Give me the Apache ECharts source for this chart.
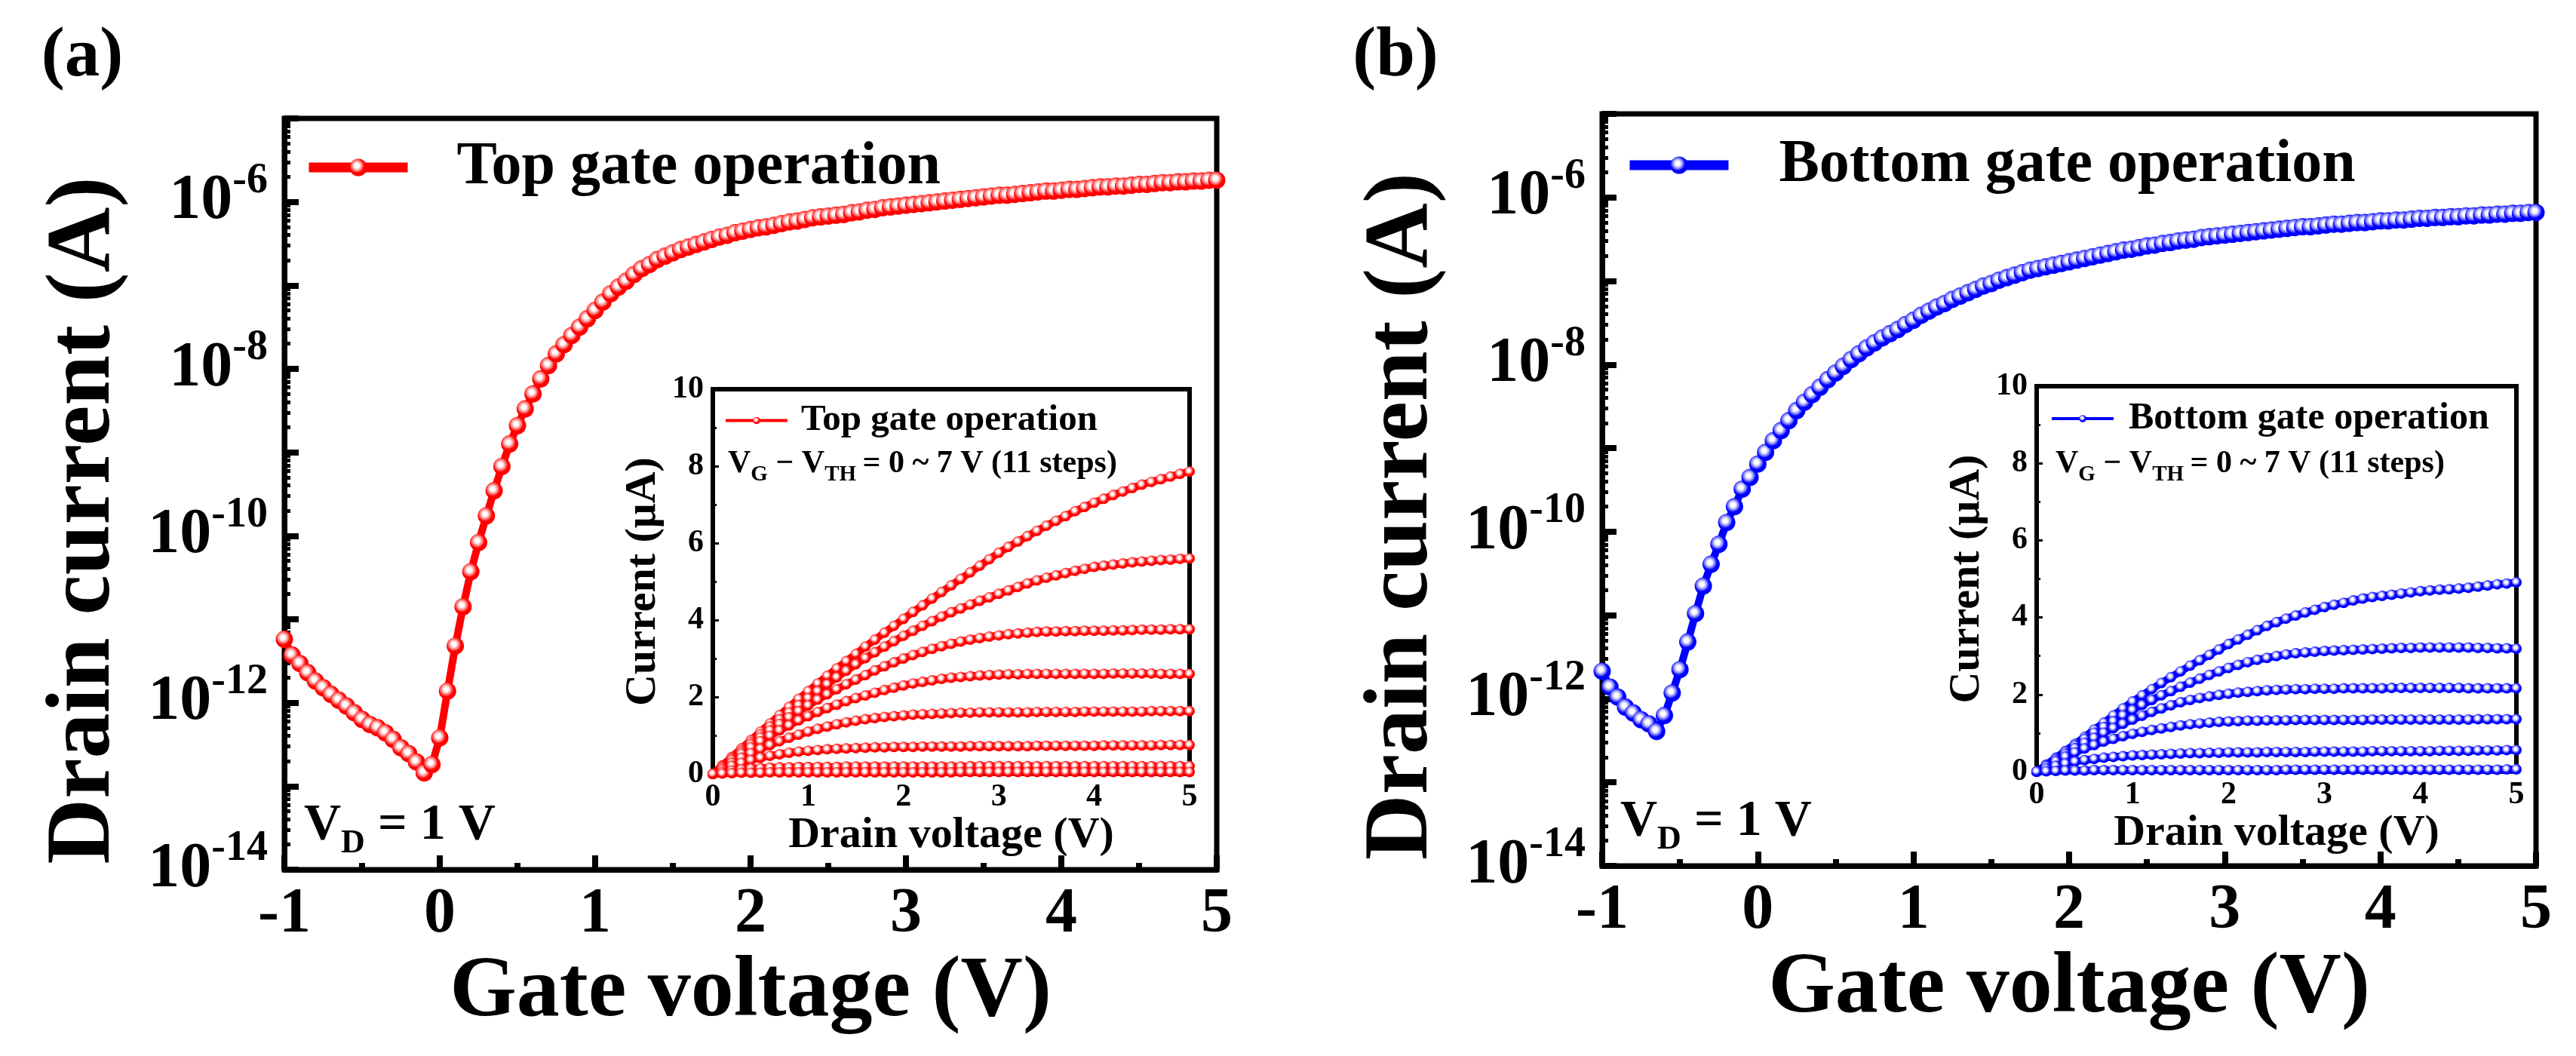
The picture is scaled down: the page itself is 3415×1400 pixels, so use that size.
<!DOCTYPE html>
<html>
<head>
<meta charset="utf-8">
<script src="https://cdn.jsdelivr.net/npm/echarts@6/dist/echarts.min.js"></script>
<style>
html,body{margin:0;padding:0;background:#fff;}
#chart{width:3415px;height:1400px;}
</style>
</head>
<body>
<div id="chart"></div>
<script>
// ---------------- DATA ----------------
// Gate voltage sweep (V)
const gateVoltage = [
 -1,-0.95,-0.9,-0.85,-0.8,-0.75,-0.7,-0.65,-0.6,-0.55,-0.5,-0.45,-0.4,-0.35,-0.3,-0.25,-0.2,-0.15,-0.1,-0.05,
 0,0.05,0.1,0.15,0.2,0.25,0.3,0.35,0.4,0.45,0.5,0.55,0.6,0.65,0.7,0.75,0.8,0.85,0.9,0.95,
 1,1.05,1.1,1.15,1.2,1.25,1.3,1.35,1.4,1.45,1.5,1.55,1.6,1.65,1.7,1.75,1.8,1.85,1.9,1.95,
 2,2.05,2.1,2.15,2.2,2.25,2.3,2.35,2.4,2.45,2.5,2.55,2.6,2.65,2.7,2.75,2.8,2.85,2.9,2.95,
 3,3.05,3.1,3.15,3.2,3.25,3.3,3.35,3.4,3.45,3.5,3.55,3.6,3.65,3.7,3.75,3.8,3.85,3.9,3.95,
 4,4.05,4.1,4.15,4.2,4.25,4.3,4.35,4.4,4.45,4.5,4.55,4.6,4.65,4.7,4.75,4.8,4.85,4.9,4.95,5
];
// Drain current, read as log10(I / A)
const topGateLogCurrent = [
 -11.24,-11.43,-11.53,-11.64,-11.74,-11.82,-11.90,-11.97,-12.04,-12.12,-12.20,-12.26,-12.30,-12.36,-12.44,-12.54,-12.61,-12.71,-12.84,-12.74,
 -12.42,-11.86,-11.32,-10.85,-10.43,-10.08,-9.76,-9.46,-9.17,-8.90,-8.68,-8.48,-8.30,-8.12,-7.96,-7.82,-7.71,-7.60,-7.50,-7.40,
 -7.30,-7.20,-7.10,-7.02,-6.95,-6.87,-6.80,-6.75,-6.69,-6.65,-6.61,-6.57,-6.54,-6.51,-6.48,-6.45,-6.42,-6.40,-6.37,-6.35,
 -6.33,-6.31,-6.30,-6.28,-6.26,-6.24,-6.23,-6.21,-6.19,-6.18,-6.17,-6.16,-6.15,-6.13,-6.12,-6.10,-6.09,-6.07,-6.06,-6.05,
 -6.04,-6.03,-6.02,-6.01,-6.00,-5.99,-5.98,-5.97,-5.96,-5.95,-5.94,-5.93,-5.92,-5.92,-5.91,-5.90,-5.89,-5.88,-5.87,-5.87,
 -5.86,-5.85,-5.85,-5.84,-5.83,-5.82,-5.82,-5.81,-5.81,-5.80,-5.79,-5.79,-5.78,-5.77,-5.77,-5.76,-5.76,-5.75,-5.75,-5.74,-5.74
];
const bottomGateLogCurrent = [
 -11.67,-11.86,-11.98,-12.10,-12.17,-12.25,-12.30,-12.39,-12.20,-11.93,-11.65,-11.32,-10.98,-10.65,-10.39,-10.15,-9.89,-9.70,-9.49,-9.35,
 -9.19,-9.05,-8.91,-8.79,-8.67,-8.55,-8.45,-8.36,-8.27,-8.18,-8.10,-8.02,-7.94,-7.87,-7.80,-7.74,-7.68,-7.63,-7.58,-7.52,
 -7.47,-7.41,-7.36,-7.31,-7.27,-7.22,-7.18,-7.14,-7.10,-7.06,-7.03,-6.99,-6.96,-6.93,-6.90,-6.87,-6.85,-6.83,-6.81,-6.79,
 -6.77,-6.75,-6.73,-6.71,-6.69,-6.67,-6.65,-6.63,-6.62,-6.60,-6.58,-6.57,-6.55,-6.54,-6.52,-6.51,-6.50,-6.48,-6.47,-6.46,
 -6.45,-6.44,-6.43,-6.42,-6.41,-6.40,-6.39,-6.38,-6.37,-6.36,-6.35,-6.35,-6.34,-6.33,-6.32,-6.32,-6.31,-6.30,-6.30,-6.29,
 -6.28,-6.28,-6.27,-6.27,-6.26,-6.25,-6.25,-6.24,-6.24,-6.23,-6.23,-6.22,-6.22,-6.21,-6.21,-6.20,-6.20,-6.19,-6.19,-6.18,-6.18
];
// Drain voltage sweep for the output-characteristic insets (V)
const drainVoltage = [
 0,0.1,0.2,0.3,0.4,0.5,0.6,0.7,0.8,0.9,1,
 1.1,1.2,1.3,1.4,1.5,1.6,1.7,1.8,1.9,2,
 2.1,2.2,2.3,2.4,2.5,2.6,2.7,2.8,2.9,3,
 3.1,3.2,3.3,3.4,3.5,3.6,3.7,3.8,3.9,4,
 4.1,4.2,4.3,4.4,4.5,4.6,4.7,4.8,4.9,5
];
// Top gate output curves (µA)
const topOut1 = [0,0.22,0.44,0.66,0.88,1.1,1.31,1.53,1.74,1.95,2.15, 2.35,2.55,2.74,2.93,3.12,3.31,3.49,3.67,3.85,4.03, 4.21,4.38,4.56,4.73,4.9,5.07,5.24,5.41,5.58,5.75, 5.9,6.04,6.18,6.32,6.45,6.58,6.7,6.83,6.94,7.05, 7.15,7.25,7.34,7.43,7.52,7.59,7.66,7.73,7.8,7.86];
const topOut2 = [0,0.21,0.42,0.62,0.83,1.03,1.23,1.42,1.6,1.79,1.97, 2.15,2.33,2.51,2.68,2.85,3.01,3.16,3.31,3.45,3.59, 3.72,3.85,3.97,4.09,4.2,4.3,4.4,4.5,4.59,4.68, 4.77,4.86,4.95,5.03,5.1,5.16,5.22,5.28,5.33,5.38, 5.41,5.44,5.47,5.5,5.52,5.54,5.56,5.57,5.59,5.6];
const topOut3 = [0,0.2,0.39,0.58,0.77,0.95,1.13,1.3,1.47,1.63,1.78, 1.93,2.07,2.2,2.33,2.45,2.57,2.69,2.8,2.9,3.0, 3.09,3.17,3.25,3.32,3.38,3.44,3.49,3.53,3.57,3.6, 3.63,3.65,3.67,3.69,3.7,3.7,3.71,3.71,3.72,3.72, 3.72,3.73,3.73,3.74,3.75,3.75,3.75,3.76,3.76,3.76];
const topOut4 = [0,0.18,0.36,0.53,0.69,0.85,0.99,1.13,1.26,1.39,1.5, 1.61,1.71,1.8,1.89,1.97,2.04,2.11,2.18,2.24,2.3, 2.35,2.39,2.43,2.47,2.5,2.52,2.54,2.56,2.57,2.58, 2.59,2.59,2.6,2.6,2.6,2.6,2.6,2.6,2.6,2.6, 2.6,2.61,2.61,2.61,2.61,2.61,2.6,2.6,2.6,2.6];
const topOut5 = [0,0.15,0.29,0.42,0.54,0.65,0.75,0.85,0.94,1.02,1.1, 1.17,1.23,1.29,1.34,1.38,1.42,1.45,1.48,1.5,1.52, 1.54,1.55,1.56,1.57,1.58,1.59,1.59,1.6,1.6,1.6, 1.6,1.6,1.6,1.61,1.61,1.61,1.61,1.61,1.62,1.62, 1.62,1.62,1.62,1.62,1.62,1.63,1.63,1.63,1.63,1.63];
const topOut6 = [0,0.11,0.21,0.29,0.36,0.42,0.47,0.51,0.55,0.58,0.6, 0.62,0.64,0.65,0.66,0.67,0.68,0.69,0.69,0.7,0.7, 0.7,0.71,0.71,0.71,0.71,0.71,0.72,0.72,0.72,0.72, 0.72,0.72,0.72,0.73,0.73,0.73,0.73,0.73,0.73,0.73, 0.74,0.74,0.74,0.74,0.74,0.74,0.75,0.75,0.75,0.75];
const topOut7 = [0,0.05,0.09,0.12,0.14,0.15,0.16,0.17,0.17,0.18,0.18, 0.18,0.18,0.18,0.19,0.19,0.19,0.19,0.19,0.19,0.19, 0.19,0.19,0.19,0.19,0.19,0.19,0.2,0.2,0.2,0.2, 0.2,0.2,0.2,0.2,0.2,0.2,0.2,0.2,0.2,0.2, 0.2,0.2,0.2,0.2,0.2,0.2,0.2,0.2,0.2,0.2];
const topOut8 = [0,0.01,0.02,0.03,0.03,0.03,0.04,0.04,0.04,0.04,0.04, 0.04,0.04,0.04,0.04,0.04,0.04,0.04,0.04,0.04,0.04, 0.04,0.04,0.04,0.04,0.04,0.05,0.05,0.05,0.05,0.05, 0.05,0.05,0.05,0.05,0.05,0.05,0.05,0.05,0.05,0.05, 0.05,0.05,0.05,0.05,0.05,0.05,0.05,0.05,0.05,0.05];
// Bottom gate output curves (µA)
const botOut1 = [0,0.18,0.36,0.54,0.72,0.9,1.09,1.27,1.46,1.64,1.82, 1.98,2.14,2.3,2.45,2.6,2.75,2.89,3.03,3.17,3.31, 3.43,3.55,3.67,3.78,3.88,3.97,4.05,4.13,4.2,4.27, 4.33,4.38,4.44,4.49,4.53,4.56,4.59,4.62,4.65,4.68, 4.7,4.72,4.73,4.75,4.77,4.8,4.83,4.86,4.88,4.91];
const botOut2 = [0,0.17,0.34,0.51,0.68,0.85,1.01,1.16,1.31,1.46,1.6, 1.73,1.86,1.98,2.09,2.2,2.31,2.41,2.51,2.6,2.69, 2.77,2.84,2.9,2.95,3.0,3.04,3.07,3.09,3.11,3.13, 3.14,3.15,3.16,3.17,3.18,3.19,3.2,3.21,3.21,3.22, 3.22,3.22,3.22,3.22,3.22,3.21,3.21,3.2,3.2,3.19];
const botOut3 = [0,0.16,0.31,0.46,0.61,0.75,0.88,1.01,1.13,1.24,1.35, 1.45,1.55,1.64,1.72,1.8,1.86,1.91,1.95,1.99,2.02, 2.05,2.07,2.09,2.11,2.12,2.13,2.14,2.14,2.15,2.15, 2.15,2.16,2.16,2.16,2.16,2.16,2.17,2.17,2.17,2.17, 2.17,2.17,2.17,2.17,2.16,2.16,2.16,2.16,2.16,2.16];
const botOut4 = [0,0.14,0.27,0.39,0.5,0.6,0.69,0.78,0.85,0.92,0.98, 1.03,1.08,1.12,1.16,1.2,1.23,1.25,1.27,1.29,1.3, 1.31,1.32,1.32,1.33,1.33,1.33,1.34,1.34,1.34,1.34, 1.34,1.34,1.34,1.34,1.35,1.35,1.35,1.35,1.35,1.35, 1.35,1.35,1.35,1.35,1.35,1.36,1.36,1.36,1.36,1.36];
const botOut5 = [0,0.08,0.15,0.21,0.26,0.3,0.33,0.36,0.38,0.4,0.42, 0.43,0.44,0.45,0.46,0.47,0.48,0.48,0.49,0.49,0.5, 0.5,0.5,0.5,0.51,0.51,0.51,0.51,0.51,0.52,0.52, 0.52,0.52,0.52,0.52,0.53,0.53,0.53,0.53,0.53,0.53, 0.53,0.54,0.54,0.54,0.54,0.55,0.55,0.55,0.56,0.56];
const botOut6 = [0,0.01,0.02,0.03,0.03,0.03,0.04,0.04,0.04,0.04,0.04, 0.04,0.04,0.04,0.04,0.04,0.04,0.04,0.04,0.04,0.04, 0.04,0.04,0.04,0.04,0.04,0.05,0.05,0.05,0.05,0.05, 0.05,0.05,0.05,0.05,0.05,0.05,0.05,0.05,0.05,0.05, 0.05,0.05,0.05,0.05,0.05,0.05,0.05,0.05,0.06,0.06];

// Axis tick values
const decadeTicks = [1e-14,1e-13,1e-12,1e-11,1e-10,1e-9,1e-8,1e-7,1e-6,1e-5];
const decadeLabels = [1e-14,1e-12,1e-10,1e-8,1e-6];
const minorMultipliers = [2,3,4,5,6,7,8,9];

// ---------------- CHART ----------------
const FONT = "'Liberation Serif','Times New Roman',serif";
const minorTicks = [];
decadeTicks.slice(0, -1).forEach(d => minorMultipliers.forEach(m => minorTicks.push(+(m * d).toPrecision(3))));

function sphere(base, mid) {
  return {type:'radial', x:0.42, y:0.4, r:0.62, colorStops:[
    {offset:0, color:'#ffffff'}, {offset:0.2, color:'#ffffff'},
    {offset:0.42, color:mid}, {offset:0.68, color:base}, {offset:1, color:base}]};
}
const RED = '#ff0000', BLUE = '#0000ff';
const redSphere = sphere(RED, '#ff9a9a');
const blueSphere = sphere(BLUE, '#a0a0ff');

const txt = (size) => ({fontFamily:FONT, fontWeight:'bold', color:'#000', fontSize:size});

function mainX(g) {
  return {type:'value', gridIndex:g, min:-1, max:5, interval:1,
    axisLine:{show:true, onZero:false, lineStyle:{color:'#000', width:7}},
    axisTick:{show:true, inside:true, length:19, lineStyle:{color:'#000', width:8}},
    minorTick:{show:true, splitNumber:2, length:9, lineStyle:{color:'#000', width:8}},
    splitLine:{show:false}, minorSplitLine:{show:false},
    axisLabel:Object.assign({margin:18}, txt(84)),
    name:'Gate voltage (V)', nameLocation:'middle', nameGap:105, nameTextStyle:txt(114)};
}
function mainY(g) {
  return {type:'log', logBase:10, gridIndex:g, min:1e-14, max:1e-5, position:'left',
    axisLine:{show:true, onZero:false, lineStyle:{color:'#000', width:7}},
    axisTick:{show:true, inside:true, length:19, customValues:decadeTicks, lineStyle:{color:'#000', width:8}},
    minorTick:{show:false}, splitLine:{show:false},
    axisLabel:{margin:22, customValues:decadeLabels,
      formatter:(v) => '{b|10}{s|' + Math.round(Math.log10(v)) + '}',
      rich:{b:Object.assign({lineHeight:110}, txt(84)), s:Object.assign({lineHeight:55, verticalAlign:'top'}, txt(56))}},
    name:'Drain current (A)', nameLocation:'middle', nameGap:204,
    nameTextStyle:Object.assign({padding:[0,70,0,0]}, txt(120))};
}
function minorY(g) {
  return {type:'log', logBase:10, gridIndex:g, min:1e-14, max:1e-5, position:'left', offset:0,
    axisLine:{show:false, onZero:false}, axisLabel:{show:false}, splitLine:{show:false},
    axisTick:{show:true, inside:true, length:8, customValues:minorTicks, lineStyle:{color:'#000', width:5}}};
}
function insetX(g) {
  return {type:'value', gridIndex:g, min:0, max:5, interval:1, z:3,
    axisLine:{show:true, onZero:false, lineStyle:{color:'#000', width:6}},
    axisTick:{show:true, inside:true, length:8, lineStyle:{color:'#000', width:3}},
    minorTick:{show:true, splitNumber:2, length:5, lineStyle:{color:'#000', width:3}},
    splitLine:{show:false},
    axisLabel:Object.assign({margin:10}, txt(42)),
    name:'Drain voltage (V)', nameLocation:'middle', nameGap:48, nameTextStyle:txt(58)};
}
function insetY(g) {
  return {type:'value', gridIndex:g, min:0, max:10, interval:2, z:3,
    axisLine:{show:true, onZero:false, lineStyle:{color:'#000', width:6}},
    axisTick:{show:true, inside:true, length:8, lineStyle:{color:'#000', width:3}},
    minorTick:{show:true, splitNumber:2, length:5, lineStyle:{color:'#000', width:3}},
    splitLine:{show:false},
    axisLabel:Object.assign({margin:12}, txt(42)),
    name:'Current (\u03bcA)', nameLocation:'middle', nameGap:63, nameTextStyle:txt(58)};
}

function logSeries(name, xs, exps, xi, yi, color, fill) {
  return {name, type:'line', xAxisIndex:xi, yAxisIndex:yi,
    data: xs.map((x, i) => [x, Math.pow(10, exps[i])]),
    symbol:'circle', symbolSize:23, clip:false, z:3,
    lineStyle:{color, width:10}, itemStyle:{color:fill, borderWidth:0},
    emphasis:{disabled:true}};
}
function outSeries(name, ys, xi, yi, color, fill) {
  return {name, type:'line', xAxisIndex:xi, yAxisIndex:yi,
    data: drainVoltage.map((x, i) => [x, ys[i]]),
    symbol:'circle', symbolSize:14, clip:false, z:4,
    lineStyle:{color, width:10}, itemStyle:{color:fill, borderWidth:0},
    emphasis:{disabled:true}};
}

const topCurves = [topOut1, topOut2, topOut3, topOut4, topOut5, topOut6, topOut7, topOut8];
const botCurves = [botOut1, botOut2, botOut3, botOut4, botOut5, botOut6];

const series = [
  logSeries('Top gate operation', gateVoltage, topGateLogCurrent, 0, 0, RED, redSphere),
  logSeries('Bottom gate operation', gateVoltage, bottomGateLogCurrent, 2, 3, BLUE, blueSphere)
];
topCurves.forEach((c, i) => series.push(outSeries(i === 0 ? 'Top inset' : 'Top inset ' + i, c, 1, 2, RED, redSphere)));
botCurves.forEach((c, i) => series.push(outSeries(i === 0 ? 'Bottom inset' : 'Bottom inset ' + i, c, 3, 5, BLUE, blueSphere)));

function legend(name, label, left, top, w, h, lw, fs, gap) {
  return {data:[name], left, top, padding:0, itemWidth:w, itemHeight:h, selectedMode:false,
    formatter:() => label, lineStyle:{width:lw},
    textStyle:Object.assign({padding:[0,0,0,gap]}, txt(fs))};
}

// Rich text with a lowered subscript: main tokens sit at the top of the line,
// subscript tokens sit at the bottom of a taller line box.
function richText(x, y, text, big, small, lineBox) {
  return {type:'text', x, y, z:10, style:{text, align:'left', verticalAlign:'top',
    textAlign:'left', textVerticalAlign:'top',
    rich:{
      n:{fontFamily:FONT, fontWeight:'bold', fontSize:big, lineHeight:big, fill:'#000', color:'#000', verticalAlign:'top'},
      s:{fontFamily:FONT, fontWeight:'bold', fontSize:small, lineHeight:lineBox, fill:'#000', color:'#000', verticalAlign:'bottom'}
    }}};
}
function plainText(x, y, text, size) {
  return {type:'text', x, y, z:10, style:{text, fontFamily:FONT, fontWeight:'bold', fontSize:size, fill:'#000',
    align:'center', verticalAlign:'middle', textAlign:'center', textVerticalAlign:'middle'}};
}

const option = {
  animation:false,
  backgroundColor:'#fff',
  grid:[
    {left:377, top:157, width:1236, height:996, show:true, borderColor:'#000', borderWidth:7, backgroundColor:'transparent'},
    {left:945, top:516, width:632, height:510, show:true, borderColor:'#000', borderWidth:6, backgroundColor:'#fff', z:1},
    {left:2124, top:151, width:1238, height:997, show:true, borderColor:'#000', borderWidth:7, backgroundColor:'transparent'},
    {left:2700, top:512, width:636, height:511, show:true, borderColor:'#000', borderWidth:6, backgroundColor:'#fff', z:1}
  ],
  xAxis:[mainX(0), insetX(1), mainX(2), insetX(3)],
  yAxis:[mainY(0), minorY(0), insetY(1), mainY(2), minorY(2), insetY(3)],
  legend:[
    legend('Top gate operation', 'Top gate operation', 403, 182, 131, 29, 13, 80, 60),
    legend('Bottom gate operation', 'Bottom gate operation', 2154, 179, 131, 29, 13, 80, 62),
    legend('Top inset', 'Top gate operation', 960, 533, 82, 12, 4, 49, 13),
    legend('Bottom inset', 'Bottom gate operation', 2718, 530, 82, 12, 4, 50, 15)
  ],
  graphic:{elements:[
    plainText(109, 76, '(a)', 93),
    plainText(1850, 76, '(b)', 93),
    richText(403, 1060, '{n|V}{s|D}{n| = 1 V}', 68, 44, 81),
    richText(2148, 1055, '{n|V}{s|D}{n| = 1 V}', 68, 44, 81),
    richText(965, 594, '{n|V}{s|G}{n| \u2212 V}{s|TH}{n|\u2009= 0 ~ 7 V (11 steps)}', 42, 29, 50),
    richText(2725, 594, '{n|V}{s|G}{n| \u2212 V}{s|TH}{n|\u2009= 0 ~ 7 V (11 steps)}', 42, 29, 50)
  ]},
  series
};

const chart = echarts.init(document.getElementById('chart'), null, {renderer:'canvas', width:3415, height:1400});
chart.setOption(option);
</script>
</body>
</html>
